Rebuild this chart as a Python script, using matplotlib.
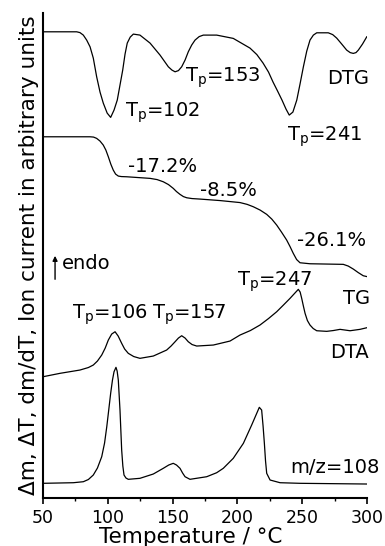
import matplotlib
matplotlib.use('Agg')
import matplotlib.pyplot as plt
from matplotlib.ticker import MultipleLocator

plt.rcParams['font.family'] = ['DejaVu Sans']
plt.rcParams['mathtext.fontset'] = 'custom'
plt.rcParams['mathtext.rm'] = 'DejaVu Sans'

# Curves: temperature (°C) and signal (arbitrary units, stacked)
dtg_t = [50, 76.0, 78.5, 81.1, 83.7, 86.3, 88.8, 91.4, 94.0, 96.5, 99.5, 102.2, 104.8, 107.3,
         109.4, 111.5, 113.3, 115.0, 117.3, 119.7, 124.8, 132.6, 140.3, 146.7, 149.5, 151.9,
         154.5, 157.0, 159.6, 162.1, 164.7, 167.3, 170.5, 173.7, 184.0, 196.8, 209.7, 215.0,
         219.8, 224.0, 227.5, 231.0, 234.4, 237.5, 240.0, 242.8, 245.8, 248.3, 250.9, 253.5,
         256.0, 258.6, 261.2, 270.1, 273.5, 276.6, 280.5, 284.3, 287.0, 289.4, 291.5, 293.3,
         296.5, 299.8]
dtg_s = [514.3, 514.3, 513.5, 511, 506, 499.3, 488, 469.3, 454, 443, 433, 428.7, 436, 446,
         461, 476, 492, 503, 509, 512, 511, 503, 491, 479.3, 476, 474.3,
         475.5, 479.3, 486, 494.3, 501, 506, 509.5, 511, 511, 507.7, 498, 491.5,
         483, 474, 464, 455, 446, 437, 431, 434, 446, 462, 479.3, 495,
         506, 511, 513.3, 513.3, 511.5, 508, 502, 496, 493.5, 492.7, 493.5, 496,
         502, 509.3]

tg_t = [50, 86.3, 89.0, 91.4, 94.0, 96.5, 98.5, 100.4, 102.3, 104.2, 106.0, 108.1, 110.5,
        114.6, 132.6, 138.0, 142.8, 146.8, 150.5, 153.0, 155.7, 158.3, 160.9, 165.0, 171.1,
        186.6, 202.0, 207.5, 212.3, 217.5, 222.6, 226.5, 230.3, 234.0, 238.0, 240.6, 243.1,
        245.7, 248.3, 256.0, 281.7, 285.5, 289.4, 293.2, 297.1, 299.8]
tg_s = [409.3, 409.3, 409, 407.7, 405, 401, 396, 389.3, 382, 376, 372, 370, 369.5,
        369.3, 367.7, 366.5, 364.3, 361.5, 357.7, 354.5, 351.7, 349.5, 348.3, 347.5, 347,
        345.5, 343.5, 341.7, 339.3, 336, 331.7, 327, 321, 314, 306, 299.5, 292.7,
        286.5, 283.3, 282.3, 281.7, 280, 277, 273.5, 270.3, 269.5]

dta_t = [50, 63.1, 78.5, 85.0, 88.8, 92.0, 95.3, 98.0, 100.4, 103.0, 105.6, 108.0, 110.7,
         113.0, 115.8, 120.0, 124.8, 135.1, 145.4, 148.8, 151.9, 154.5, 157.0, 159.6, 162.1,
         165.0, 168.6, 181.4, 194.3, 202.0, 210.0, 217.4, 224.0, 230.3, 235.5, 240.6, 244.0,
         247.0, 248.4, 249.6, 250.9, 252.2, 254.0, 256.0, 258.5, 261.2, 268.9, 274.0, 279.2,
         286.9, 294.6, 299.8]
dta_s = [169.3, 172.7, 176, 178.5, 181, 185, 191, 198, 206, 212, 214.3, 210, 202.7,
         197, 192.7, 189.5, 187.7, 190, 196, 200, 204.3, 208, 210.3, 208, 204.3,
         201.5, 200, 201, 205, 211, 215.5, 221, 227.5, 234.3, 241, 247.7, 252.5,
         256.7, 254, 247.7, 240, 232.7, 225.5, 221, 217.5, 215.3, 214.7, 215.5, 216.7,
         215.3, 216.7, 218.3]

ms_t = [50, 73.4, 81.1, 85.0, 88.8, 92.0, 95.3, 97.5, 99.2, 100.8, 102.2, 103.6, 104.8,
        106.3, 107.2, 108.1, 109.4, 110.7, 111.6, 112.5, 114.0, 115.8, 124.8, 135.1, 142.8,
        147.0, 150.5, 153.0, 155.7, 157.7, 159.6, 163.4, 176.3, 184.0, 189.1, 196.8, 204.6,
        211.0, 214.5, 216.9, 218.7, 219.8, 220.8, 221.7, 222.6, 225.2, 232.9, 248.3, 299.8]
ms_s = [62.7, 63.3, 64.3, 66.5, 71, 78, 89.3, 103, 119.3, 137, 152.7, 166, 174.3,
        178.7, 175, 166, 136, 96, 80, 71, 68, 66.7, 67.7, 72, 77.7,
        81, 82.7, 81, 77.7, 73, 69.3, 66.7, 69.3, 73.3, 77.7, 87.7, 102.7,
        121, 131.5, 138.7, 136, 120, 102.7, 85, 72.7, 66, 63.3, 62.7, 62]

fig = plt.figure(figsize=(3.85, 5.46), dpi=100)
ax = fig.add_axes([0.1117, 0.0888, 0.8416, 0.8872])

for t, s in [(dtg_t, dtg_s), (tg_t, tg_s), (dta_t, dta_s), (ms_t, ms_s)]:
    ax.plot(t, s, color='black', lw=0.9)

ax.set_xlim(50, 300)
ax.set_ylim(48.5, 533)
ax.spines['top'].set_visible(False)
ax.spines['right'].set_visible(False)
ax.spines['left'].set_linewidth(1.5)
ax.spines['bottom'].set_linewidth(1.5)
ax.set_yticks([])
ax.xaxis.set_major_locator(MultipleLocator(50))
ax.xaxis.set_minor_locator(MultipleLocator(25))
ax.tick_params(axis='x', which='major', direction='out', length=4, width=1.2, labelsize=12.5, pad=4)
ax.tick_params(axis='x', which='minor', direction='out', length=2.5, width=1)
ax.set_xlabel('Temperature / °C', fontsize=15.5)
ax.xaxis.set_label_coords(0.457, -0.061)
ax.set_ylabel('Δm, ΔT, dm/dT, Ion current in arbitrary units', fontsize=15.5, labelpad=3)

fs = 14
labels = [
    (113.3, 433, 'T$_\\mathregular{p}$=102'),
    (159.6, 468, 'T$_\\mathregular{p}$=153'),
    (238.3, 409, 'T$_\\mathregular{p}$=241'),
    (269.1, 468, 'DTG'),
    (115.6, 380, '-17.2%'),
    (171.1, 356, '-8.5%'),
    (246.0, 306, '-26.1%'),
    (64.7, 283, 'endo'),
    (199.7, 264, 'T$_\\mathregular{p}$=247'),
    (281.5, 248, 'TG'),
    (72.4, 231, 'T$_\\mathregular{p}$=106'),
    (134.1, 231, 'T$_\\mathregular{p}$=157'),
    (271.5, 194, 'DTA'),
    (240.5, 79, 'm/z=108'),
]
for x, y, s in labels:
    ax.text(x, y, s, fontsize=fs, ha='left', va='center')

ax.annotate('', xy=(59.3, 293), xytext=(59.3, 264),
            arrowprops=dict(arrowstyle='-|>', color='black', lw=1, mutation_scale=7))

fig.savefig('out.png', dpi=100)
